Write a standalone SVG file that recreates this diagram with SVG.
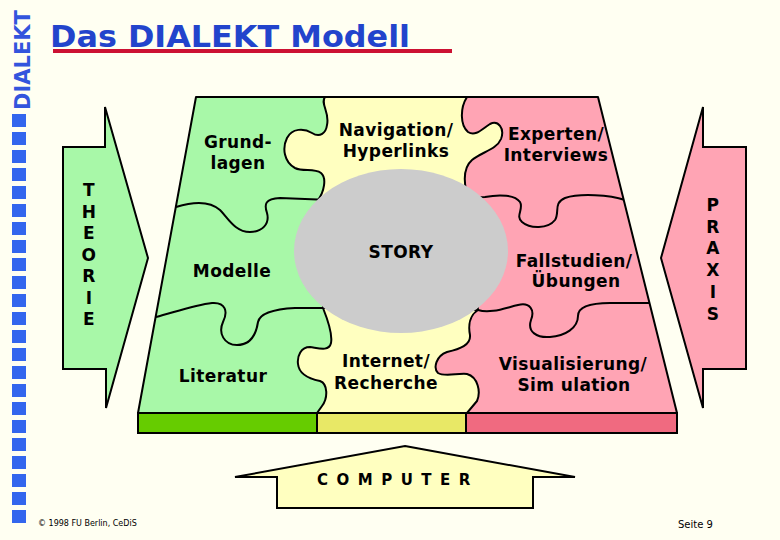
<svg xmlns="http://www.w3.org/2000/svg" width="780" height="540" viewBox="0 0 780 540">
<style>
.lbl{font-family:"DejaVu Sans","Verdana",sans-serif;font-weight:bold;font-size:17px;letter-spacing:0.4px;fill:#000;text-anchor:middle}
.edge{fill:none;stroke:#000;stroke-width:2;stroke-linejoin:round}
.sq{fill:#3366EE}
.small{font-family:"DejaVu Sans",sans-serif;font-size:8px;fill:#000}
.arrow{stroke:#000;stroke-width:2;stroke-linejoin:miter}
</style>
<defs>
<clipPath id="trap"><polygon points="196,97 598,97 677,413 138,413"/></clipPath>
</defs>
<rect width="780" height="540" fill="#FFFFF2"/>

<g id="sidebar">
<text transform="translate(30,110) rotate(-90)" font-family="DejaVu Sans, Verdana, sans-serif" font-weight="bold" font-size="21" fill="#3355DD">DIALEKT</text>
<g>
<rect class="sq" x="12" y="114" width="14" height="13"/><rect class="sq" x="12" y="132" width="14" height="13"/>
<rect class="sq" x="12" y="150" width="14" height="13"/><rect class="sq" x="12" y="168" width="14" height="13"/>
<rect class="sq" x="12" y="186" width="14" height="13"/><rect class="sq" x="12" y="204" width="14" height="13"/>
<rect class="sq" x="12" y="222" width="14" height="13"/><rect class="sq" x="12" y="240" width="14" height="13"/>
<rect class="sq" x="12" y="258" width="14" height="13"/><rect class="sq" x="12" y="276" width="14" height="13"/>
<rect class="sq" x="12" y="294" width="14" height="13"/><rect class="sq" x="12" y="312" width="14" height="13"/>
<rect class="sq" x="12" y="330" width="14" height="13"/><rect class="sq" x="12" y="348" width="14" height="13"/>
<rect class="sq" x="12" y="366" width="14" height="13"/><rect class="sq" x="12" y="384" width="14" height="13"/>
<rect class="sq" x="12" y="402" width="14" height="13"/><rect class="sq" x="12" y="420" width="14" height="13"/>
<rect class="sq" x="12" y="438" width="14" height="13"/><rect class="sq" x="12" y="456" width="14" height="13"/>
<rect class="sq" x="12" y="474" width="14" height="13"/><rect class="sq" x="12" y="492" width="14" height="13"/>
<rect class="sq" x="12" y="510" width="14" height="13"/>
</g>
</g>

<g id="title">
<text x="50" y="47" font-family="DejaVu Sans, Verdana, sans-serif" font-weight="bold" font-size="30" textLength="360" lengthAdjust="spacingAndGlyphs" fill="#2244CC">Das DIALEKT Modell</text>
<rect x="53" y="49" width="399" height="4" fill="#CC1133"/>
</g>

<g id="theorie">
<polygon class="arrow" fill="#A8F8A8" points="105,107 148,258 106,408 106,369 63,369 63,147 105,147"/>
<text class="lbl" font-size="16"><tspan x="89" y="196">T</tspan><tspan x="89" y="217.5">H</tspan><tspan x="89" y="239">E</tspan><tspan x="89" y="260.5">O</tspan><tspan x="89" y="282">R</tspan><tspan x="89" y="303.5">I</tspan><tspan x="89" y="325">E</tspan></text>
</g>

<g id="praxis">
<polygon class="arrow" fill="#FFA4B4" points="703,107 661,258 703,408 703,369 746,369 746,147 703,147"/>
<text class="lbl" font-size="16"><tspan x="713" y="211">P</tspan><tspan x="713" y="232.5">R</tspan><tspan x="713" y="254">A</tspan><tspan x="713" y="276">X</tspan><tspan x="713" y="298">I</tspan><tspan x="713" y="320">S</tspan></text>
</g>

<g id="computer">
<polygon class="arrow" fill="#FFFFC0" points="405,446 575,477 533,477 533,508 277,508 277,477 235,477"/>
<text x="317" y="485" font-family="DejaVu Sans, Verdana, sans-serif" font-weight="bold" font-size="15" letter-spacing="8.5" fill="#000">COMPUTER</text>
</g>

<g id="puzzle">
<polygon points="196,97 598,97 677,413 138,413" fill="#FFA4B4"/>
<g clip-path="url(#trap)">
<path fill="#FFFFC0" d="M467,90 L467,97 C460,108 460,125 468,132 C476,137 483,128 490,124 C498,120 505,128 501,139 C497,149 482,152 472,160 C464,167 464,180 466,190 L478,310 C470,315 468,325 470,335 C471,345 460,349 447,352 C436,356 433,368 438,373 C444,377 458,373 467,374 C478,377 481,392 477,401 L467,413 L467,440 L0,440 L0,90 Z"/>
<path fill="#A8F8A8" d="M325,90 L325,97 C320,104 330,112 327,125 C326,133 320,138 312,133 C304,128 292,128 287,138 C282,148 284,162 295,168 C303,172 314,168 321,173 C327,178 324,192 318,200 L323,308 C327,318 333,333 331,343 C329,352 318,348 310,347 C301,347 297,356 298,364 C299,374 310,379 320,381 C328,384 328,398 322,406 L317,413 L317,440 L0,440 L0,90 Z"/>
<g class="edge">
<path d="M325,97 C320,104 330,112 327,125 C326,133 320,138 312,133 C304,128 292,128 287,138 C282,148 284,162 295,168 C303,172 314,168 321,173 C327,178 324,192 318,200 L322,215"/>
<path d="M176,207 C195,201 210,201 220,210 C228,218 235,232 250,232 C262,232 270,224 267,213 C264,204 265,199 280,198 L330,200"/>
<path d="M156,317 C175,312 195,305 212,303 C226,302 228,312 223,322 C218,333 224,345 237,345 C250,345 256,335 258,322 C260,313 275,309 295,308 L335,308"/>
<path d="M323,295 L323,308 C327,318 333,333 331,343 C329,352 318,348 310,347 C301,347 297,356 298,364 C299,374 310,379 320,381 C328,384 328,398 322,406 L317,413"/>
<path d="M467,97 C460,108 460,125 468,132 C476,137 483,128 490,124 C498,120 505,128 501,139 C497,149 482,152 472,160 C464,167 464,180 466,190 L467,205"/>
<path d="M470,198 L485,197 C500,194 515,195 520,202 C524,209 515,216 522,222 C530,229 548,229 555,220 C560,212 553,203 565,198 C580,193 610,195 625,200"/>
<path d="M476,295 L478,310 C470,315 468,325 470,335 C471,345 460,349 447,352 C436,356 433,368 438,373 C444,377 458,373 467,374 C478,377 481,392 477,401 L467,413"/>
<path d="M465,310 L478,310 C490,314 505,308 518,305 C530,302 535,310 531,320 C527,332 537,338 550,337 C565,336 578,328 578,316 C578,306 592,303 610,303 L650,303"/>
</g>
</g>
<ellipse cx="401" cy="251" rx="107" ry="82" fill="#CCCCCC"/>
<polygon class="edge" points="196,97 598,97 677,413 138,413"/>
<g stroke="#000" stroke-width="2">
<rect x="138" y="413" width="179" height="20" fill="#66CC00"/>
<rect x="317" y="413" width="149" height="20" fill="#E8E866"/>
<rect x="466" y="413" width="211" height="20" fill="#F06A80"/>
</g>
</g>

<g id="grundlagen"><text class="lbl" x="238" y="148">Grund-</text><text class="lbl" x="238" y="169">lagen</text></g>
<g id="navigation"><text class="lbl" x="396" y="136">Navigation/</text><text class="lbl" x="396" y="157">Hyperlinks</text></g>
<g id="experten"><text class="lbl" x="556" y="140">Experten/</text><text class="lbl" x="556" y="161">Interviews</text></g>
<g id="modelle"><text class="lbl" x="232" y="277">Modelle</text></g>
<g id="story"><text class="lbl" x="401" y="258">STORY</text></g>
<g id="fallstudien"><text class="lbl" x="574" y="267">Fallstudien/</text><text class="lbl" x="576" y="287">Übungen</text></g>
<g id="literatur"><text class="lbl" x="223" y="382">Literatur</text></g>
<g id="internet"><text class="lbl" x="386" y="367">Internet/</text><text class="lbl" x="386" y="389">Recherche</text></g>
<g id="visualisierung"><text class="lbl" x="573" y="370">Visualisierung/</text><text class="lbl" x="574" y="391">Sim ulation</text></g>

<g id="footer">
<text class="small" x="38" y="526">© 1998 FU Berlin, CeDiS</text>
<text class="small" x="678" y="528" style="font-size:10px">Seite 9</text>
</g>
</svg>
